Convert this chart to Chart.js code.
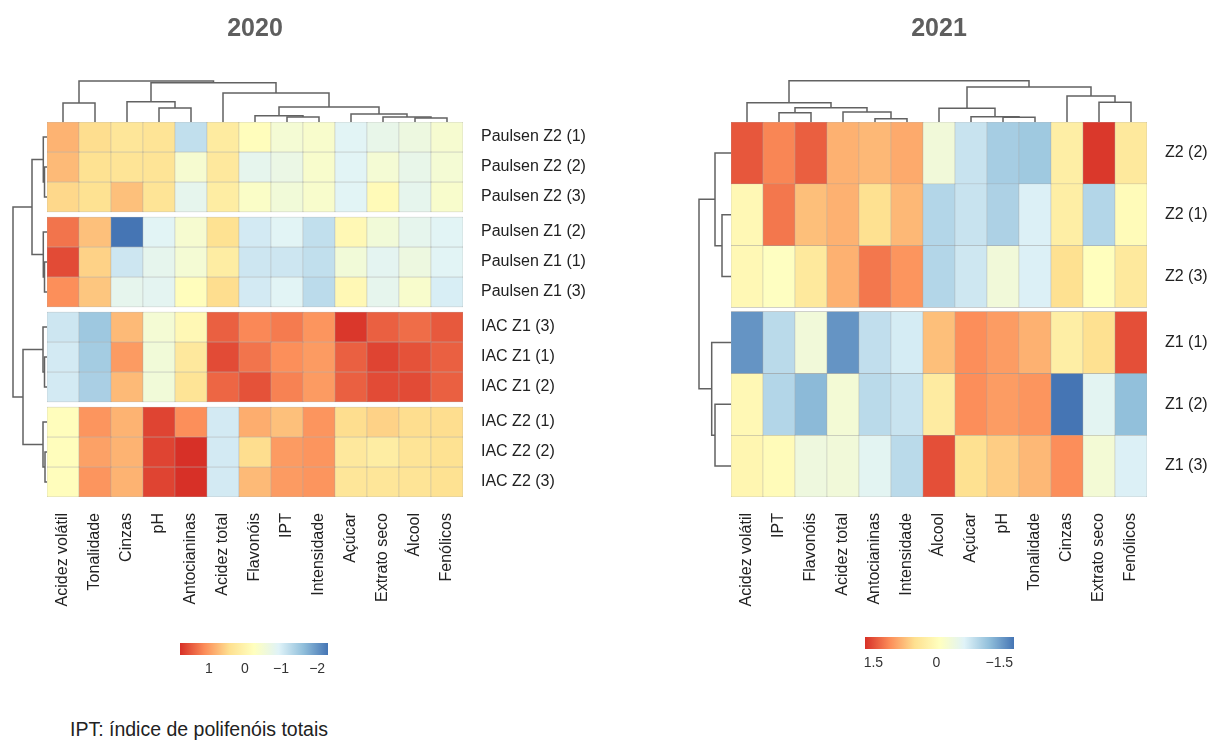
<!DOCTYPE html>
<html>
<head>
<meta charset="utf-8">
<script src="https://cdn.jsdelivr.net/npm/chart.js@4"></script>
<style>
  body { margin: 0; background: #fff; width: 1213px; height: 740px; position: relative; overflow: hidden; font-family: "Liberation Sans", Arial, sans-serif; }
  canvas { position: absolute; }
  #note { position: absolute; left: 70px; top: 718px; font-size: 19.5px; color: #222; }
</style>
</head>
<body>
<canvas id="heat20" width="606" height="617" style="left:0px;top:0px"></canvas>
<canvas id="colTree20" width="416" height="44" style="left:47px;top:78px"></canvas>
<canvas id="rowTree20" width="36" height="375" style="left:11px;top:122px"></canvas>
<canvas id="bar20" width="188" height="40" style="left:160px;top:643px"></canvas>

<canvas id="heat21" width="529" height="617" style="left:684px;top:0px"></canvas>
<canvas id="colTree21" width="416" height="44" style="left:731px;top:78px"></canvas>
<canvas id="rowTree21" width="36" height="375" style="left:695px;top:122px"></canvas>
<canvas id="bar21" width="189" height="40" style="left:845px;top:637px"></canvas>

<div id="note">IPT: índice de polifenóis totais</div>

<script>
Chart.defaults.font.family = '"Liberation Sans", Arial, sans-serif';

// ---- 2020 ----
const cols2020 = ['Acidez volátil', 'Tonalidade', 'Cinzas', 'pH', 'Antocianinas', 'Acidez total',
  'Flavonóis', 'IPT', 'Intensidade', 'Açúcar', 'Extrato seco', 'Álcool', 'Fenólicos'];
const rows2020 = ['Paulsen Z2 (1)', 'Paulsen Z2 (2)', 'Paulsen Z2 (3)', 'Paulsen Z1 (2)', 'Paulsen Z1 (1)',
  'Paulsen Z1 (3)', 'IAC Z1 (3)', 'IAC Z1 (1)', 'IAC Z1 (2)', 'IAC Z2 (1)', 'IAC Z2 (2)', 'IAC Z2 (3)'];
const groups2020 = [0, 0, 0, 1, 1, 1, 2, 2, 2, 3, 3, 3];
const values2020 = [
  [0.8, 0.45, 0.3, 0.35, -1.2, 0.2, -0.2, -0.5, -0.4, -0.9, -0.75, -0.65, -0.45],
  [0.75, 0.4, 0.35, 0.35, -0.45, 0.25, -0.8, -0.7, -0.4, -0.9, -0.5, -0.75, -0.5],
  [0.5, 0.4, 0.7, 0.35, -0.8, 0.15, -0.35, -0.55, -0.4, -0.9, -0.15, -0.8, -0.4],
  [1.3, 0.7, -2.3, -0.9, -0.45, 0.4, -1.05, -0.9, -1.2, -0.1, -0.55, -0.8, -0.9],
  [1.6, 0.55, -1.1, -0.8, -0.5, 0.15, -1.1, -1.1, -1.2, -0.55, -0.85, -0.65, -0.9],
  [1.1, 0.65, -0.8, -0.85, -0.2, 0.45, -1.05, -0.9, -1.25, -0.1, -0.8, -0.4, -1.0],
  [-1.1, -1.5, 0.75, -0.5, -0.1, 1.45, 1.15, 1.25, 1.05, 1.75, 1.45, 1.35, 1.5],
  [-1.05, -1.45, 1.0, -0.55, 0.25, 1.6, 1.3, 1.1, 1.0, 1.45, 1.65, 1.55, 1.45],
  [-1.05, -1.4, 0.75, -0.55, 0.35, 1.4, 1.55, 1.2, 1.0, 1.45, 1.6, 1.6, 1.45],
  [-0.2, 1.05, 0.8, 1.65, 1.1, -1.05, 0.85, 0.7, 1.05, 0.45, 0.55, 0.45, 0.45],
  [-0.2, 0.95, 0.8, 1.65, 1.85, -1.05, 0.45, 1.0, 1.05, 0.25, 0.15, 0.35, 0.4],
  [-0.2, 1.05, 0.8, 1.65, 1.85, -1.05, 0.75, 1.0, 1.05, 0.3, 0.3, 0.35, 0.4]
];
// merges: negative = leaf (-1 is first leaf), positive = earlier merge (1-based), then height
const colTree2020 = [[-4, -5, 14], [-1, -2, 19], [-3, 1, 20.3], [-12, -13, 4], [-8, -9, 5], [-11, 4, 5],
  [-7, 5, 6.3], [-10, 6, 8], [7, 8, 15], [-6, 9, 29], [3, 10, 39.3], [2, 11, 41]];
const rowTree2020 = [[-2, -3, 2.5], [-1, 1, 3.7], [-5, -6, 2.5], [-4, 3, 3.7], [-8, -9, 2.5], [-7, 5, 4],
  [-11, -12, 2], [-10, 7, 4], [2, 4, 15], [6, 8, 24], [9, 10, 34]];
const range2020 = [-2.3, 1.8];
const legendTicks2020 = [1, 0, -1, -2];

// ---- 2021 ----
const cols2021 = ['Acidez volátil', 'IPT', 'Flavonóis', 'Acidez total', 'Antocianinas', 'Intensidade',
  'Álcool', 'Açúcar', 'pH', 'Tonalidade', 'Cinzas', 'Extrato seco', 'Fenólicos'];
const rows2021 = ['Z2 (2)', 'Z2 (1)', 'Z2 (3)', 'Z1 (1)', 'Z1 (2)', 'Z1 (3)'];
const groups2021 = [0, 0, 0, 1, 1, 1];
const values2021 = [
  [1.45, 1.15, 1.4, 0.85, 0.8, 0.9, -0.35, -0.85, -1.1, -1.15, 0.25, 1.65, 0.35],
  [0.05, 1.25, 0.75, 0.85, 0.5, 0.8, -1.0, -0.85, -1.05, -0.7, 0.25, -1.0, 0.0],
  [0.05, -0.1, 0.35, 0.85, 1.25, 1.05, -1.0, -0.8, -0.35, -0.7, 0.5, -0.05, 0.35],
  [-1.6, -0.95, -0.35, -1.6, -0.9, -0.75, 0.75, 1.1, 1.0, 0.85, 0.25, 0.5, 1.5],
  [0.05, -1.0, -1.3, -0.3, -0.95, -0.85, 0.3, 1.1, 1.0, 1.05, -1.85, -0.6, -1.25],
  [0.1, 0.0, -0.4, -0.35, -0.6, -0.95, 1.5, 0.5, 0.65, 0.8, 1.1, -0.3, -0.7]
];
const colTree2021 = [[-5, -6, 3.3], [-9, -10, 4.7], [-8, 2, 5.3], [-2, -3, 9.3], [-4, 1, 10], [-7, 3, 13.7],
  [4, 5, 14.3], [-1, 7, 19.3], [-12, -13, 19.7], [-11, 9, 26], [6, 10, 35], [8, 11, 41.3]];
const rowTree2021 = [[-2, -3, 9], [-1, 1, 16], [-5, -6, 16], [-4, 3, 19.3], [2, 4, 32]];
const range2021 = [-1.85, 1.7];
const legendTicks2021 = [1.5, 0, -1.5];

// RdYlBu, high values red
const palette = ['#D73027', '#FC8D59', '#FEE090', '#FFFFBF', '#E0F3F8', '#91BFDB', '#4575B4'];

function hexRgb(h) {
  return [parseInt(h.slice(1, 3), 16), parseInt(h.slice(3, 5), 16), parseInt(h.slice(5, 7), 16)];
}

function colorFor(v, range) {
  let t = (range[1] - v) / (range[1] - range[0]);
  t = Math.min(1, Math.max(0, t)) * (palette.length - 1);
  const i = Math.min(palette.length - 2, Math.floor(t));
  const f = t - i;
  const a = hexRgb(palette[i]), b = hexRgb(palette[i + 1]);
  const c = a.map((x, k) => Math.round(x + (b[k] - x) * f));
  return 'rgb(' + c.join(',') + ')';
}

function rowLayout(groups, gap) {
  const tops = groups.map((g, r) => r + g * gap);
  return { tops: tops, centers: tops.map(t => t + 0.5), max: groups.length + groups[groups.length - 1] * gap };
}

const labelFont = { size: 16 };

function makeHeatmap(id, title, cols, rows, groups, gap, values, range, yWidth) {
  const lay = rowLayout(groups, gap);
  const datasets = rows.map((name, r) => ({
    label: name,
    data: cols.map(() => [lay.tops[r], lay.tops[r] + 1]),
    backgroundColor: values[r].map(v => colorFor(v, range)),
    borderColor: '#9c9c9c',
    borderWidth: 0.5,
    borderSkipped: false,
    barPercentage: 1,
    categoryPercentage: 1,
    grouped: false
  }));
  new Chart(document.getElementById(id), {
    type: 'bar',
    data: { labels: cols, datasets: datasets },
    options: {
      responsive: false,
      animation: false,
      layout: { padding: { left: 47 } },
      plugins: {
        legend: { display: false },
        tooltip: { enabled: false },
        title: {
          display: true, text: title, fullSize: false, color: '#5e5e5e',
          font: { size: 25, weight: 'bold' },
          padding: { top: 14, bottom: 78 }
        }
      },
      scales: {
        x: {
          grid: { display: false, drawTicks: false },
          border: { display: false },
          ticks: { autoSkip: false, maxRotation: 90, minRotation: 90, padding: 16, color: '#222', font: labelFont },
          afterFit: a => { a.height = 120; }
        },
        y: {
          type: 'linear', position: 'right', reverse: true, min: 0, max: lay.max,
          grid: { display: false, drawTicks: false },
          border: { display: false },
          afterBuildTicks: a => { a.ticks = lay.centers.map(v => ({ value: v })); },
          ticks: { callback: (v, i) => rows[i], padding: 18, color: '#222', font: labelFont },
          afterFit: a => { a.width = yWidth; }
        }
      }
    }
  });
}

function treeSegments(tree, leafPos, horizontal) {
  const pos = [], hgt = [];
  const get = c => c < 0 ? [leafPos[-c - 1], 0] : [pos[c - 1], hgt[c - 1]];
  return tree.map(([a, b, h]) => {
    const [pa, ha] = get(a), [pb, hb] = get(b);
    pos.push((pa + pb) / 2);
    hgt.push(h);
    const pts = [[pa, ha], [pa, h], [pb, h], [pb, hb]];
    return pts.map(([p, q]) => horizontal ? { x: q, y: p } : { x: p, y: q });
  });
}

function makeTree(id, tree, leafPos, horizontal, posMin, posMax, hMax) {
  const segs = treeSegments(tree, leafPos, horizontal);
  const posAxis = { type: 'linear', display: false, min: posMin, max: posMax, reverse: horizontal };
  const hAxis = { type: 'linear', display: false, min: 0, max: hMax, reverse: horizontal };
  new Chart(document.getElementById(id), {
    type: 'scatter',
    data: {
      datasets: segs.map(s => ({
        data: s, showLine: true, borderColor: '#626262', borderWidth: 1.5,
        pointRadius: 0, clip: false
      }))
    },
    options: {
      responsive: false,
      animation: false,
      plugins: { legend: { display: false }, tooltip: { enabled: false } },
      scales: horizontal ? { x: hAxis, y: posAxis } : { x: posAxis, y: hAxis }
    }
  });
}

function fmt(v) {
  return v === 0 ? '0' : (v < 0 ? '\u2212' + Math.abs(v) : String(v));
}

function makeColorBar(id, range, ticks) {
  new Chart(document.getElementById(id), {
    type: 'bar',
    data: {
      labels: [''],
      datasets: [{
        data: [[range[0], range[1]]],
        backgroundColor: ctx => {
          const area = ctx.chart.chartArea;
          if (!area) return palette[3];
          const g = ctx.chart.ctx.createLinearGradient(area.left, 0, area.right, 0);
          palette.forEach((c, i) => g.addColorStop(i / (palette.length - 1), c));
          return g;
        },
        borderWidth: 0, barPercentage: 1, categoryPercentage: 1
      }]
    },
    options: {
      indexAxis: 'y',
      responsive: false,
      animation: false,
      layout: { padding: { left: 20, right: 20 } },
      plugins: { legend: { display: false }, tooltip: { enabled: false } },
      scales: {
        y: { display: false },
        x: {
          type: 'linear', reverse: true, min: range[0], max: range[1],
          grid: { display: false, drawTicks: false },
          border: { display: false },
          afterBuildTicks: a => { a.ticks = ticks.map(v => ({ value: v })); },
          ticks: { callback: v => fmt(v), padding: 6, color: '#333', font: { size: 14 } },
          afterFit: a => { a.height = 28; }
        }
      }
    }
  });
}

const lay20 = rowLayout(groups2020, 1 / 6);
const lay21 = rowLayout(groups2021, 0.065);

makeHeatmap('heat20', '2020', cols2020, rows2020, groups2020, 1 / 6, values2020, range2020, 143);
makeTree('colTree20', colTree2020, cols2020.map((c, i) => i), false, -0.5, cols2020.length - 0.5, 44);
makeTree('rowTree20', rowTree2020, lay20.centers, true, 0, lay20.max, 36);
makeColorBar('bar20', range2020, legendTicks2020);

makeHeatmap('heat21', '2021', cols2021, rows2021, groups2021, 0.065, values2021, range2021, 66);
makeTree('colTree21', colTree2021, cols2021.map((c, i) => i), false, -0.5, cols2021.length - 0.5, 44);
makeTree('rowTree21', rowTree2021, lay21.centers, true, 0, lay21.max, 36);
makeColorBar('bar21', range2021, legendTicks2021);
</script>
</body>
</html>
